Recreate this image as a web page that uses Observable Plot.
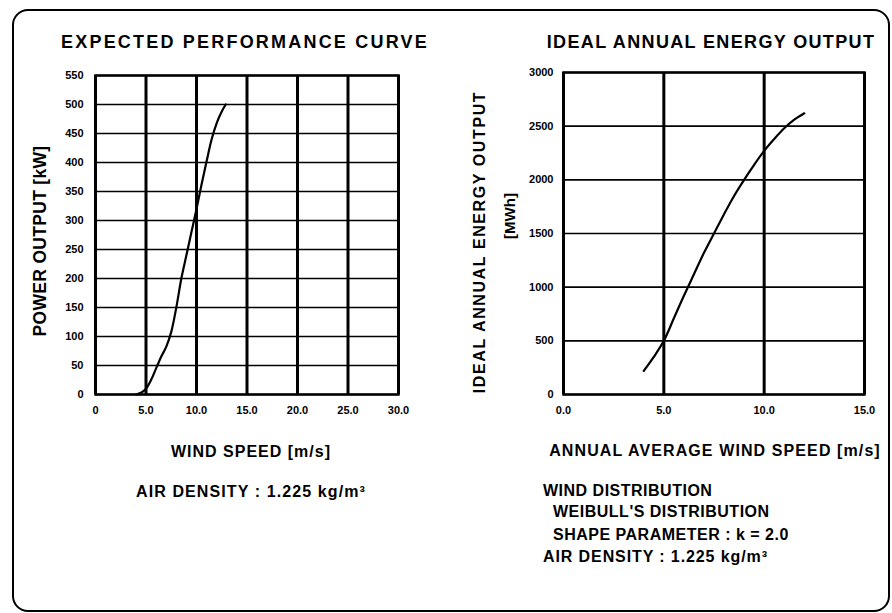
<!DOCTYPE html>
<html><head><meta charset="utf-8">
<script src="https://cdn.jsdelivr.net/npm/d3@7"></script>
<script src="https://cdn.jsdelivr.net/npm/@observablehq/plot@0.6"></script>
<style>
body{margin:0;background:#fff;}
#wrap{position:relative;width:892px;height:613px;background:#fff;overflow:hidden;font-family:"Liberation Sans",Arial,sans-serif;color:#000;font-weight:bold;}
#box{position:absolute;left:12px;top:9px;width:878px;height:603px;border:2px solid #000;border-radius:16px;box-sizing:border-box;}
.t{position:absolute;white-space:nowrap;transform:translate(-50%,-50%);font-size:16px;}
.l{position:absolute;white-space:nowrap;transform:translate(0,-50%);font-size:16px;}
.v{position:absolute;white-space:nowrap;font-size:16px;}
.p{position:absolute;top:0;}
</style></head>
<body><div id="wrap"><div id="box"></div></div>
<script>
// Left chart: expected performance curve
const windSpeed = [4.0, 4.5, 5.0, 5.5, 6.0, 6.5, 7.0, 7.5, 8.0, 8.5, 9.0, 9.5, 10.0, 10.5, 11.0, 11.5, 12.0, 12.5, 12.9];
const powerKW   = [0,   3,   10,  25,  45,  65,  82,  108, 150, 200, 240, 280, 320, 362, 402, 440, 468, 488, 500];
const leftXTicks = [0, 5, 10, 15, 20, 25, 30];
const leftXLabels = ["0", "5.0", "10.0", "15.0", "20.0", "25.0", "30.0"];
const leftYTicks = [0, 50, 100, 150, 200, 250, 300, 350, 400, 450, 500, 550];

// Right chart: ideal annual energy output
const avgSpeed = [4.0, 4.5, 5.0, 5.5, 6.0, 6.5, 7.0, 7.5, 8.0, 8.5, 9.0, 9.5, 10.0, 10.5, 11.0, 11.5, 12.0];
const energyMWh = [220, 350, 500, 710, 920, 1120, 1320, 1500, 1680, 1850, 2000, 2140, 2270, 2380, 2480, 2560, 2620];
const rightXTicks = [0, 5, 10, 15];
const rightXLabels = ["0.0", "5.0", "10.0", "15.0"];
const rightYTicks = [0, 500, 1000, 1500, 2000, 2500, 3000];

const tickFont = {fontSize: 11, fontWeight: "bold", fontFamily: "Liberation Sans, Arial, sans-serif"};

function panel(opts) {
  const data = opts.xs.map((x, i) => ({x, y: opts.ys[i]}));
  const chart = Plot.plot({
    width: opts.width, height: opts.height,
    marginLeft: opts.ml, marginRight: opts.mr, marginTop: opts.mt, marginBottom: opts.mb,
    x: {domain: opts.xdom},
    y: {domain: opts.ydom},
    style: {background: "transparent", color: "#000", ...tickFont},
    marks: [
      Plot.ruleY(opts.yTicks, {stroke: "#000", strokeWidth: 1.6}),
      Plot.ruleX(opts.xTicks, {stroke: "#000", strokeWidth: 3}),
      Plot.frame({stroke: "#000", strokeWidth: 2.5}),
      Plot.line(data, {x: "x", y: "y", stroke: "#000", strokeWidth: 2.2, curve: "catmull-rom"}),
      Plot.axisX({ticks: opts.xTicks, tickSize: 0, tickPadding: 12, tickFormat: (d) => opts.xLabels[opts.xTicks.indexOf(d)], label: null, ...tickFont}),
      Plot.axisY({ticks: opts.yTicks, tickSize: 0, tickPadding: opts.ypad, label: null, tickFormat: (d) => String(d), ...tickFont})
    ]
  });
  chart.classList.add("p");
  chart.style.left = opts.left + "px";
  return chart;
}

const wrap = document.getElementById("wrap");
wrap.appendChild(panel({xs: windSpeed, ys: powerKW, xdom: [0, 30], ydom: [0, 550],
  xTicks: leftXTicks, xLabels: leftXLabels, yTicks: leftYTicks,
  width: 430, height: 430, ml: 95, mr: 32, mt: 75, mb: 36, ypad: 12, left: 0}));
wrap.appendChild(panel({xs: avgSpeed, ys: energyMWh, xdom: [0, 15], ydom: [0, 3000],
  xTicks: rightXTicks, xLabels: rightXLabels, yTicks: rightYTicks,
  width: 446, height: 430, ml: 117, mr: 28, mt: 72, mb: 36, ypad: 10, left: 446}));

const texts = [
  ["t", 245, 42, "EXPECTED PERFORMANCE CURVE", "font-size:18px;letter-spacing:2.2px"],
  ["t", 711, 42, "IDEAL ANNUAL ENERGY OUTPUT", "font-size:18px;letter-spacing:1.35px"],
  ["v", 40, 241, "POWER OUTPUT [kW]", "font-size:17.5px;letter-spacing:0.3px", 1],
  ["v", 480, 242, "IDEAL ANNUAL ENERGY OUTPUT", "font-size:16px;letter-spacing:1.6px", 1],
  ["v", 509, 216, "[MWh]", "font-size:15px", 1],
  ["t", 251, 452, "WIND SPEED [m/s]", "font-size:16px;letter-spacing:1px"],
  ["t", 251, 492, "AIR DENSITY : 1.225 kg/m³", "font-size:16px;letter-spacing:1.1px"],
  ["t", 715, 451, "ANNUAL AVERAGE WIND SPEED [m/s]", "font-size:16px;letter-spacing:1.1px"],
  ["l", 543, 491, "WIND DISTRIBUTION", "font-size:16px;letter-spacing:0.5px"],
  ["l", 553, 512, "WEIBULL'S DISTRIBUTION", "font-size:16px;letter-spacing:0.5px"],
  ["l", 553, 535, "SHAPE PARAMETER : k = 2.0", "font-size:16px;letter-spacing:0.5px"],
  ["l", 543, 557, "AIR DENSITY : 1.225 kg/m³", "font-size:16px;letter-spacing:0.9px"]
];
for (const [cls, x, y, s, st, sx] of texts) {
  const d = document.createElement("div");
  d.className = cls;
  let css = `left:${x}px;top:${y}px;${st}`;
  if (cls === "v") css += `;transform:translate(-50%,-50%) rotate(-90deg) scaleX(${sx})`;
  d.style.cssText = css;
  d.textContent = s;
  wrap.appendChild(d);
}
</script></body></html>
